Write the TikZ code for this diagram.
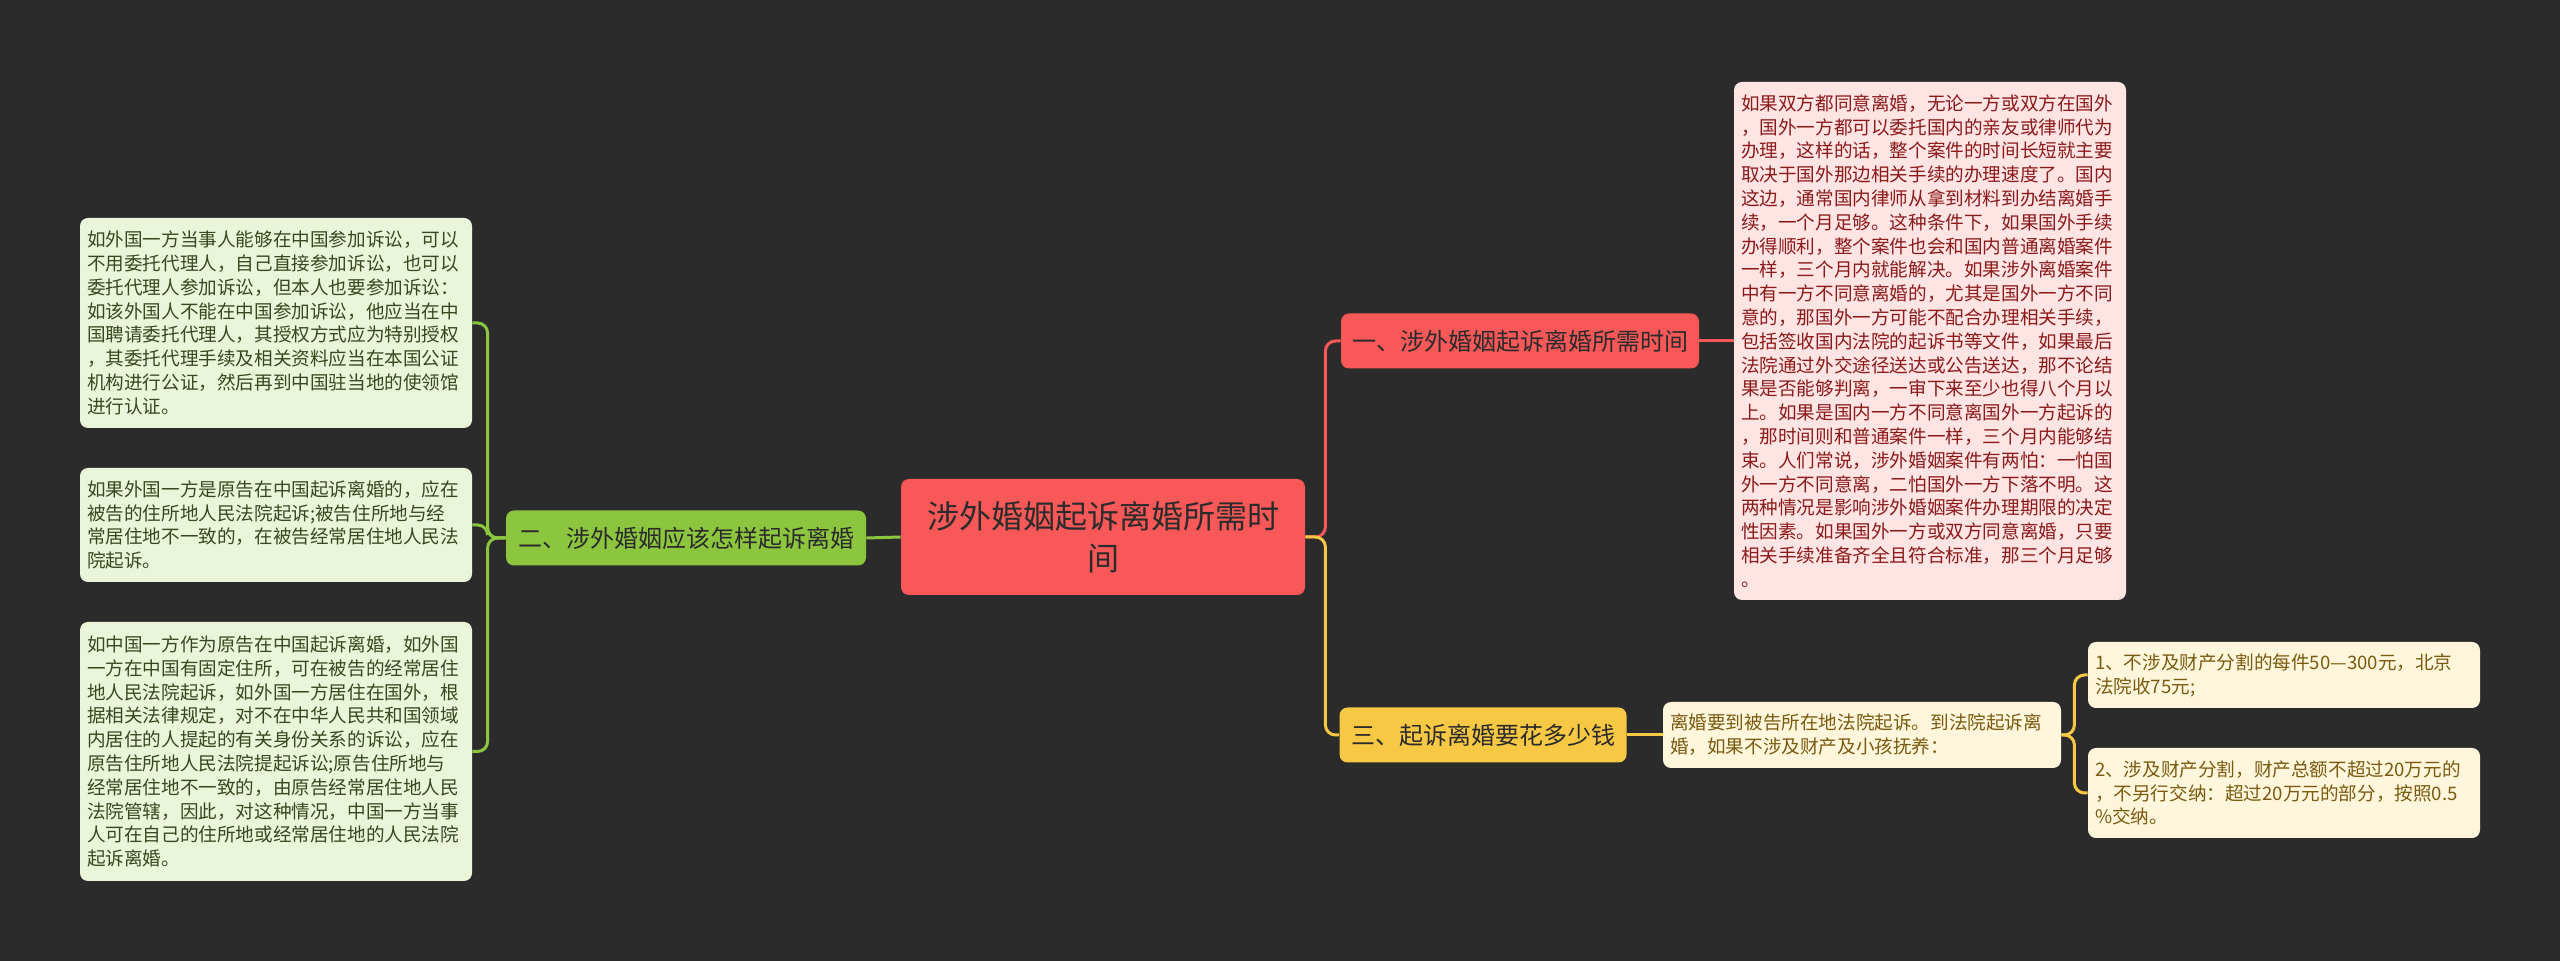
\documentclass[tikz,border=0pt]{standalone}
\usepackage{fontspec}
\setmainfont{Noto Sans CJK SC}
\usepackage{tikz}
\definecolor{bgc}{HTML}{2B2B2B}
\definecolor{redc}{HTML}{F95858}
\definecolor{greenc}{HTML}{8CC63F}
\definecolor{yellowc}{HTML}{F7C844}
\definecolor{pinkfill}{HTML}{FFE4E4}
\definecolor{pinktext}{HTML}{8B1A1A}
\definecolor{greenfill}{HTML}{EBF5DA}
\definecolor{greentext}{HTML}{3A4720}
\definecolor{yellowfill}{HTML}{FFF6DC}
\definecolor{yellowtext}{HTML}{7A5A10}
\definecolor{darktext}{HTML}{2B2B2B}

\begin{document}
\begin{tikzpicture}[x=0.5pt,y=-0.5pt,
  rootbox/.style={fill=redc, rounded corners=4pt, text=darktext, align=center,
    minimum width=202pt, minimum height=58pt, font=\fontsize{16}{21}\selectfont},
  topicbox/.style={rounded corners=4pt, text=darktext, minimum height=27.5pt,
    inner sep=0pt, font=\fontsize{12}{14}\selectfont},
  leafbox/.style={rounded corners=4pt, align=left, text width=189pt, inner xsep=3.5pt,
    inner ysep=0pt, font=\fontsize{9.3}{11.9}\selectfont},
  redline/.style={draw=redc, line width=1.5pt, rounded corners=5pt},
  greenline/.style={draw=greenc, line width=1.5pt, rounded corners=5pt},
  yellowline/.style={draw=yellowc, line width=1.5pt, rounded corners=5pt}]

\fill[bgc] (0,0) rectangle (2560,961);
\useasboundingbox (0,0) rectangle (2560,961);

\node[rootbox] (root) at (1103,537) {涉外婚姻起诉离婚所需时\\间};

\node[topicbox, fill=redc, minimum width=179pt] (one) at (1520,341) {一、涉外婚姻起诉离婚所需时间};
\node[topicbox, fill=greenc, minimum width=180pt] (two) at (686,538) {二、涉外婚姻应该怎样起诉离婚};
\node[topicbox, fill=yellowc, minimum width=143.5pt] (three) at (1483,735) {三、起诉离婚要花多少钱};

\node[leafbox, fill=pinkfill, text=pinktext, minimum height=259pt] (pinkleaf) at (1930,341) {如果双方都同意离婚，无论一方或双方在国外\\，国外一方都可以委托国内的亲友或律师代为\\办理，这样的话，整个案件的时间长短就主要\\取决于国外那边相关手续的办理速度了。国内\\这边，通常国内律师从拿到材料到办结离婚手\\续，一个月足够。这种条件下，如果国外手续\\办得顺利，整个案件也会和国内普通离婚案件\\一样，三个月内就能解决。如果涉外离婚案件\\中有一方不同意离婚的，尤其是国外一方不同\\意的，那国外一方可能不配合办理相关手续，\\包括签收国内法院的起诉书等文件，如果最后\\法院通过外交途径送达或公告送达，那不论结\\果是否能够判离，一审下来至少也得八个月以\\上。如果是国内一方不同意离国外一方起诉的\\，那时间则和普通案件一样，三个月内能够结\\束。人们常说，涉外婚姻案件有两怕：一怕国\\外一方不同意离，二怕国外一方下落不明。这\\两种情况是影响涉外婚姻案件办理期限的决定\\性因素。如果国外一方或双方同意离婚，只要\\相关手续准备齐全且符合标准，那三个月足够\\。};

\node[leafbox, fill=greenfill, text=greentext, minimum height=105pt] (greena) at (276,323) {如外国一方当事人能够在中国参加诉讼，可以\\不用委托代理人，自己直接参加诉讼，也可以\\委托代理人参加诉讼，但本人也要参加诉讼：\\如该外国人不能在中国参加诉讼，他应当在中\\国聘请委托代理人，其授权方式应为特别授权\\，其委托代理手续及相关资料应当在本国公证\\机构进行公证，然后再到中国驻当地的使领馆\\进行认证。};
\node[leafbox, fill=greenfill, text=greentext, minimum height=57pt] (greenb) at (276,525) {如果外国一方是原告在中国起诉离婚的，应在\\被告的住所地人民法院起诉;被告住所地与经\\常居住地不一致的，在被告经常居住地人民法\\院起诉。};
\node[leafbox, fill=greenfill, text=greentext, minimum height=129.5pt] (greenc) at (276,751.5) {如中国一方作为原告在中国起诉离婚，如外国\\一方在中国有固定住所，可在被告的经常居住\\地人民法院起诉，如外国一方居住在国外，根\\据相关法律规定，对不在中华人民共和国领域\\内居住的人提起的有关身份关系的诉讼，应在\\原告住所地人民法院提起诉讼;原告住所地与\\经常居住地不一致的，由原告经常居住地人民\\法院管辖，因此，对这种情况，中国一方当事\\人可在自己的住所地或经常居住地的人民法院\\起诉离婚。};

\node[leafbox, fill=yellowfill, text=yellowtext, text width=192pt, minimum height=33pt] (ymid) at (1862,735) {离婚要到被告所在地法院起诉。到法院起诉离\\婚，如果不涉及财产及小孩抚养：};
\node[leafbox, fill=yellowfill, text=yellowtext, minimum height=33pt] (ysubone) at (2284,675) {1、不涉及财产分割的每件50—300元，北京\\法院收75元;};
\node[leafbox, fill=yellowfill, text=yellowtext, minimum height=45pt] (ysubtwo) at (2284,793) {2、涉及财产分割，财产总额不超过20万元的\\，不另行交纳：超过20万元的部分，按照0.5\\\%交纳。};

\draw[redline] (root.east) -- ++(20,0) |- (one.west);
\draw[yellowline] (root.east) -- ++(20,0) |- (three.west);
\draw[greenline] (root.west) -- (two.east);
\draw[redline] (one.east) -- (pinkleaf.west);
\draw[greenline] (two.west) -- ++(-18,0) |- (greena.east);
\draw[greenline] (two.west) -- ++(-18,0) |- (greenb.east);
\draw[greenline] (two.west) -- ++(-18,0) |- (greenc.east);
\draw[yellowline] (three.east) -- (ymid.west);
\draw[yellowline] (ymid.east) -- ++(13,0) |- (ysubone.west);
\draw[yellowline] (ymid.east) -- ++(13,0) |- (ysubtwo.west);
\end{tikzpicture}
\end{document}
